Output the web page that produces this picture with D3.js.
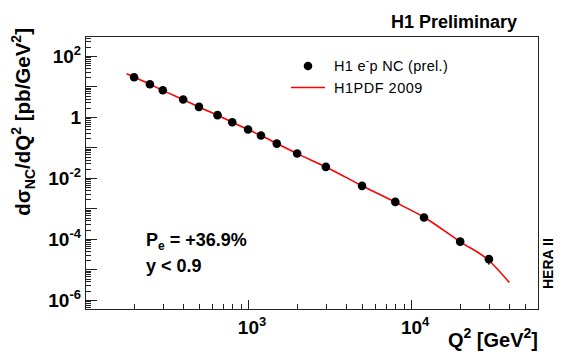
<!DOCTYPE html>
<html>
<head>
	<script src="https://cdn.jsdelivr.net/npm/d3@7"></script>
	<style>
		html, body {
			padding: 0;
			margin: 0;
			background: white;
		}
		text {
			font-family: "Liberation Sans", Arial, Helvetica, sans-serif;
		}
	</style>
</head>
<body>
	<script>
		// data points (Q^2 in GeV^2, cross section in pb/GeV^2)
		const Q2 = [200, 250, 300, 400, 500, 650, 800, 1000, 1200, 1500, 2000, 3000, 5000, 8000, 12000, 20000, 30000];
		const XSEC = [20, 11.8, 7.5, 3.7, 2.13, 1.14, 0.67, 0.384, 0.244, 0.133, 0.0627, 0.0229, 0.00547, 0.00163, 0.0005, 8.1e-5, 2.16e-5];
		const XSEC_ERR = [0.6, 0.35, 0.22, 0.11, 0.065, 0.035, 0.02, 0.012, 0.008, 0.0045, 0.0022, 0.0009, 0.00025, 0.0001, 0.00004, 1.0e-5, 0.75e-5];

		// H1PDF 2009 prediction
		const PDF_Q2 = [180, 200, 250, 300, 400, 500, 650, 800, 1000, 1200, 1500, 2000, 3000, 5000, 8000, 12000, 20000, 30000, 40000];
		const PDF_XSEC = [26, 20.5, 11.8, 7.4, 3.7, 2.12, 1.13, 0.67, 0.385, 0.244, 0.134, 0.0625, 0.0228, 0.0055, 0.00158, 0.00051, 8.0e-5, 1.95e-5, 3.7e-6];

		const Y_DECADES = [-6, -5, -4, -3, -2, -1, 0, 1, 2];
		const Y_LABELS = [-6, -4, -2, 0, 2];
		const X_DECADES = [3, 4];

		const W = 567, H = 364;
		const L = 85, R = 538, T = 36, B = 309;

		var svg = d3.select('body').append('svg')
			.attr('width', W)
			.attr('height', H);

		var x = d3.scaleLog().domain([100, 6e4]).range([L, R]);
		var y = d3.scaleLog().domain([5e-7, 450]).range([B, T]);

		// ~ ~ ~ ticks ~ ~ ~
		var yMinor = [], xMinor = [];
		for (var e = -7; e <= 2; e++)
			for (var m = 2; m <= 9; m++) {
				var v = m * Math.pow(10, e);
				if (v >= 5e-7 && v <= 450) yMinor.push(v);
			}
		for (var e = 2; e <= 4; e++)
			for (var m = 2; m <= 9; m++) {
				var v = m * Math.pow(10, e);
				if (v <= 6e4) xMinor.push(v);
			}

		var ticks = svg.append('g')
			.attr('stroke', '#222')
			.attr('stroke-width', 1)
			.attr('shape-rendering', 'crispEdges');

		ticks.selectAll('.ymin').data(yMinor).enter().append('line')
			.attr('x1', L).attr('x2', L + 6)
			.attr('y1', d => Math.round(y(d)) + 0.5).attr('y2', d => Math.round(y(d)) + 0.5);
		ticks.selectAll('.ymaj').data(Y_DECADES).enter().append('line')
			.attr('x1', L).attr('x2', L + 12)
			.attr('y1', d => Math.round(y(Math.pow(10, d))) + 0.5)
			.attr('y2', d => Math.round(y(Math.pow(10, d))) + 0.5);
		ticks.selectAll('.xmin').data(xMinor).enter().append('line')
			.attr('y1', B).attr('y2', B - 5)
			.attr('x1', d => Math.round(x(d)) + 0.5).attr('x2', d => Math.round(x(d)) + 0.5);
		ticks.selectAll('.xmaj').data(X_DECADES).enter().append('line')
			.attr('y1', B).attr('y2', B - 9)
			.attr('x1', d => Math.round(x(Math.pow(10, d))) + 0.5)
			.attr('x2', d => Math.round(x(Math.pow(10, d))) + 0.5);

		// frame
		svg.append('rect')
			.attr('x', L + 0.5).attr('y', T + 0.5)
			.attr('width', R - L).attr('height', B - T)
			.attr('fill', 'none')
			.attr('stroke', '#222')
			.attr('shape-rendering', 'crispEdges');

		// tick labels
		var powLabel = function(sel, e) {
			if (e === 0) {
				sel.text('1');
				return;
			}
			sel.append('tspan').text('10');
			sel.append('tspan').attr('dy', -8).attr('font-size', 13).text(e);
		};

		svg.selectAll('.ylab').data(Y_LABELS).enter().append('text')
			.attr('x', 81)
			.attr('y', d => y(Math.pow(10, d)) + 7)
			.attr('text-anchor', 'end')
			.attr('font-size', 19)
			.attr('font-weight', 'bold')
			.each(function(d) { powLabel(d3.select(this), d); });

		svg.selectAll('.xlab').data(X_DECADES).enter().append('text')
			.attr('x', d => x(Math.pow(10, d)) + 4)
			.attr('y', 334)
			.attr('text-anchor', 'middle')
			.attr('font-size', 19)
			.attr('font-weight', 'bold')
			.each(function(d) { powLabel(d3.select(this), d); });

		// axis titles
		var yt = svg.append('text')
			.attr('transform', 'translate(30,28) rotate(-90)')
			.attr('text-anchor', 'end')
			.attr('font-size', 20.5)
			.attr('font-weight', 'bold');
		yt.append('tspan').text('dσ');
		yt.append('tspan').attr('font-size', 14).attr('dy', 5).text('NC');
		yt.append('tspan').attr('dy', -5).text('/dQ');
		yt.append('tspan').attr('font-size', 14).attr('dy', -9).text('2');
		yt.append('tspan').attr('dy', 9).text(' [pb/GeV');
		yt.append('tspan').attr('font-size', 14).attr('dy', -9).text('2');
		yt.append('tspan').attr('dy', 9).text(']');

		var xt = svg.append('text')
			.attr('x', R).attr('y', 347)
			.attr('text-anchor', 'end')
			.attr('font-size', 20)
			.attr('font-weight', 'bold');
		xt.append('tspan').text('Q');
		xt.append('tspan').attr('font-size', 14).attr('dy', -9).text('2');
		xt.append('tspan').attr('dy', 9).text(' [GeV');
		xt.append('tspan').attr('font-size', 14).attr('dy', -9).text('2');
		xt.append('tspan').attr('dy', 9).text(']');

		// prediction curve
		var line = d3.line()
			.x(d => x(d[0]))
			.y(d => y(d[1]))
			.curve(d3.curveMonotoneX);

		svg.append('path')
			.datum(d3.zip(PDF_Q2, PDF_XSEC))
			.attr('d', line)
			.attr('fill', 'none')
			.attr('stroke', '#ff0000')
			.attr('stroke-width', 1.6);

		// data with error bars
		var pts = d3.zip(Q2, XSEC, XSEC_ERR);
		svg.selectAll('.err').data(pts).enter().append('line')
			.attr('x1', d => x(d[0])).attr('x2', d => x(d[0]))
			.attr('y1', d => y(d[1] + d[2])).attr('y2', d => y(d[1] - d[2]))
			.attr('stroke', 'black')
			.attr('stroke-width', 1.2);
		svg.selectAll('.pt').data(pts).enter().append('circle')
			.attr('cx', d => x(d[0]))
			.attr('cy', d => y(d[1]))
			.attr('r', 4.3)
			.attr('fill', 'black');

		// legend
		svg.append('circle').attr('cx', 308).attr('cy', 66).attr('r', 4.3).attr('fill', 'black');
		var lg = svg.append('text')
			.attr('x', 334).attr('y', 71)
			.attr('font-size', 14.5)
			.attr('letter-spacing', 0.3);
		lg.append('tspan').text('H1 e');
		lg.append('tspan').attr('font-size', 10).attr('dy', -7).text('-');
		lg.append('tspan').attr('dy', 7).text('p NC (prel.)');

		svg.append('line')
			.attr('x1', 291).attr('x2', 325).attr('y1', 87.5).attr('y2', 87.5)
			.attr('stroke', '#ff0000').attr('stroke-width', 1.6);
		svg.append('text')
			.attr('x', 334).attr('y', 92.5)
			.attr('font-size', 14.5)
			.attr('letter-spacing', 0.5)
			.text('H1PDF 2009');

		// annotations
		var pe = svg.append('text')
			.attr('x', 146).attr('y', 246)
			.attr('font-size', 18)
			.attr('font-weight', 'bold');
		pe.append('tspan').text('P');
		pe.append('tspan').attr('font-size', 12).attr('dy', 4).text('e');
		pe.append('tspan').attr('dy', -4).text(' = +36.9%');

		svg.append('text')
			.attr('x', 146).attr('y', 272)
			.attr('font-size', 18)
			.attr('font-weight', 'bold')
			.text('y < 0.9');

		svg.append('text')
			.attr('x', 517).attr('y', 28)
			.attr('text-anchor', 'end')
			.attr('font-size', 18)
			.attr('font-weight', 'bold')
			.text('H1 Preliminary');

		svg.append('text')
			.attr('transform', 'translate(553,289) rotate(-90)')
			.attr('font-size', 14)
			.attr('font-weight', 'bold')
			.text('HERA II');
	</script>
</body>
</html>
